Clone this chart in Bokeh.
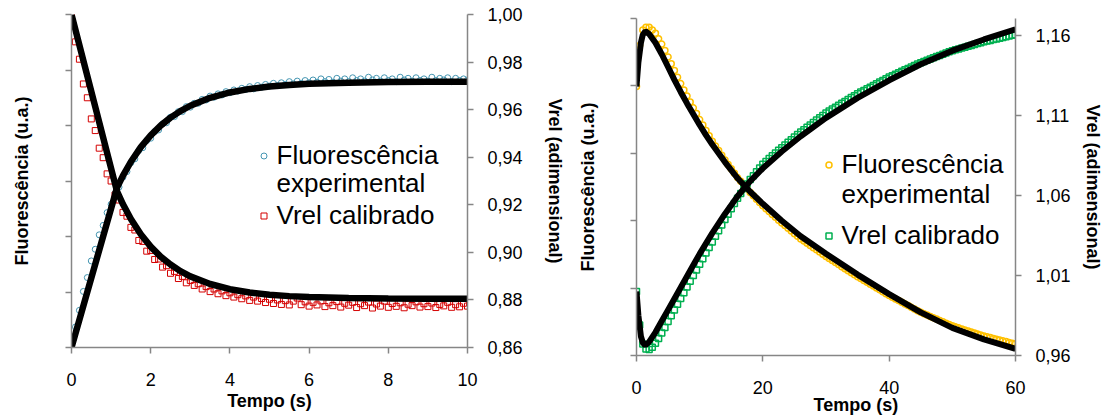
import numpy as np
from bokeh.plotting import figure
from bokeh.models import (Range1d, LinearAxis, FixedTicker, Legend, LegendItem,
                          Title, CustomJSTickFormatter)
from bokeh.layouts import row, column
from bokeh.embed import file_html
from bokeh.resources import INLINE

FONT = "Liberation Sans"
AXIS_GRAY = "#868686"

# ---------------- LEFT PANEL DATA ----------------
t_left = np.round(np.arange(0, 10.001, 0.1), 1)

fluo_left = [
    0.00, 0.37, 0.67, 1.01, 1.26, 1.56, 1.77, 2.03, 2.20, 2.43,
    2.58, 2.78, 2.89, 3.07, 3.17, 3.33, 3.40, 3.55, 3.60, 3.73,
    3.77, 3.89, 3.92, 4.03, 4.05, 4.15, 4.16, 4.25, 4.25, 4.34,
    4.33, 4.40, 4.40, 4.47, 4.46, 4.53, 4.51, 4.57, 4.55, 4.61,
    4.59, 4.64, 4.62, 4.67, 4.65, 4.70, 4.66, 4.72, 4.69, 4.74,
    4.71, 4.76, 4.72, 4.77, 4.74, 4.79, 4.75, 4.80, 4.76, 4.81,
    4.77, 4.82, 4.78, 4.84, 4.79, 4.83, 4.78, 4.85, 4.80, 4.84,
    4.79, 4.86, 4.81, 4.84, 4.80, 4.87, 4.82, 4.85, 4.80, 4.86,
    4.81, 4.84, 4.79, 4.87, 4.82, 4.85, 4.80, 4.86, 4.81, 4.84,
    4.80, 4.87, 4.81, 4.85, 4.82, 4.86, 4.79, 4.85, 4.81, 4.84,
    4.82,
]

vrel_left = [
    1.0000, 0.9885, 0.9812, 0.9708, 0.9650, 0.9561, 0.9512, 0.9438, 0.9398, 0.9330,
    0.9300, 0.9241, 0.9220, 0.9168, 0.9152, 0.9105, 0.9094, 0.9050, 0.9046, 0.9005,
    0.9008, 0.8970, 0.8972, 0.8938, 0.8944, 0.8912, 0.8920, 0.8890, 0.8899, 0.8872,
    0.8882, 0.8861, 0.8868, 0.8846, 0.8856, 0.8835, 0.8846, 0.8826, 0.8838, 0.8818,
    0.8830, 0.8812, 0.8822, 0.8805, 0.8817, 0.8798, 0.8812, 0.8795, 0.8806, 0.8789,
    0.8803, 0.8785, 0.8800, 0.8781, 0.8797, 0.8779, 0.8795, 0.8808, 0.8780, 0.8792,
    0.8774, 0.8790, 0.8779, 0.8796, 0.8772, 0.8788, 0.8776, 0.8793, 0.8770, 0.8786,
    0.8778, 0.8790, 0.8768, 0.8784, 0.8776, 0.8791, 0.8766, 0.8783, 0.8774, 0.8795,
    0.8769, 0.8785, 0.8773, 0.8788, 0.8767, 0.8782, 0.8776, 0.8792, 0.8770, 0.8784,
    0.8772, 0.8787, 0.8768, 0.8781, 0.8775, 0.8790, 0.8769, 0.8780, 0.8771, 0.8786,
    0.8774,
]

# fitted (model) curves, left panel
t_fit_left = [0, 1.15, 1.3, 1.5, 1.75, 2.0, 2.25, 2.5, 2.75, 3.0, 3.5, 4.0, 4.5,
              5.0, 5.5, 6.0, 7.0, 8.0, 9.0, 10.0]
fluo_fit_left = [0.0, 2.881, 3.097, 3.347, 3.609, 3.823, 3.998, 4.142, 4.259, 4.356,
                 4.499, 4.595, 4.659, 4.702, 4.731, 4.751, 4.772, 4.782, 4.787, 4.789]
vrel_fit_left = [1.0, 0.9256, 0.9202, 0.9140, 0.9076, 0.9024, 0.8982, 0.8949, 0.8921,
                 0.8899, 0.8867, 0.8845, 0.8831, 0.8822, 0.8816, 0.8812, 0.8808,
                 0.8806, 0.8805, 0.8805]

# ---------------- RIGHT PANEL DATA ----------------
t_right = np.round(np.arange(0, 60.001, 0.5), 1)

fluo_right = [
    3.99, 4.60, 4.83, 4.87, 4.87, 4.83, 4.78, 4.70, 4.62, 4.525,
    4.43, 4.33, 4.23, 4.13, 4.035, 3.94, 3.85, 3.76, 3.675, 3.59,
    3.50, 3.42, 3.34, 3.26, 3.18, 3.11, 3.04, 2.97, 2.90, 2.835,
    2.77, 2.705, 2.64, 2.585, 2.53, 2.475, 2.42, 2.37, 2.32, 2.27,
    2.22, 2.177, 2.135, 2.092, 2.05, 2.008, 1.966, 1.927, 1.887, 1.848,
    1.807, 1.768, 1.73, 1.698, 1.665, 1.633, 1.60, 1.568, 1.535, 1.503,
    1.47, 1.44, 1.41, 1.379, 1.349, 1.318, 1.288, 1.258, 1.228, 1.198,
    1.17, 1.142, 1.114, 1.086, 1.058, 1.03, 1.002, 0.974, 0.946, 0.918,
    0.89, 0.865, 0.840, 0.815, 0.790, 0.765, 0.740, 0.715, 0.690, 0.665,
    0.640, 0.620, 0.600, 0.580, 0.560, 0.540, 0.520, 0.500, 0.480, 0.460,
    0.440, 0.425, 0.41, 0.395, 0.380, 0.365, 0.350, 0.335, 0.320, 0.305,
    0.290, 0.278, 0.266, 0.254, 0.242, 0.230, 0.218, 0.206, 0.194, 0.182,
    0.175,
]

vrel_right = [
    1.0000, 0.9790, 0.9672, 0.9640, 0.9637, 0.9652, 0.9676, 0.9706, 0.9740, 0.9775,
    0.9812, 0.9848, 0.9884, 0.9920, 0.9956, 0.9992, 1.0028, 1.0064, 1.0100, 1.0135,
    1.0170, 1.0205, 1.0240, 1.0275, 1.0310, 1.0345, 1.0380, 1.0415, 1.0450, 1.0483,
    1.0517, 1.0550, 1.0583, 1.0613, 1.0643, 1.0672, 1.0700, 1.0724, 1.0748, 1.0772,
    1.0795, 1.0813, 1.0831, 1.0848, 1.0865, 1.0882, 1.0899, 1.0916, 1.0933, 1.0949,
    1.0965, 1.0981, 1.0996, 1.1011, 1.1026, 1.1041, 1.1056, 1.1071, 1.1086, 1.1100,
    1.1115, 1.1128, 1.1140, 1.1152, 1.1164, 1.1176, 1.1188, 1.1200, 1.1212, 1.1223,
    1.1235, 1.1246, 1.1256, 1.1267, 1.1277, 1.1288, 1.1298, 1.1309, 1.1319, 1.1330,
    1.1340, 1.1349, 1.1358, 1.1367, 1.1376, 1.1385, 1.1394, 1.1403, 1.1412, 1.1421,
    1.1430, 1.1438, 1.1445, 1.1453, 1.1460, 1.1468, 1.1475, 1.1483, 1.1490, 1.1498,
    1.1505, 1.1511, 1.1516, 1.1522, 1.1527, 1.1533, 1.1538, 1.1544, 1.1549, 1.1555,
    1.1560, 1.1565, 1.1569, 1.1574, 1.1578, 1.1583, 1.1587, 1.1592, 1.1596, 1.1601,
    1.1605,
]

t_fit_fluo_right = [0, 0.3, 0.7, 1.0, 1.4, 2, 3, 4, 5, 6, 7, 8, 9, 10, 11, 12, 14, 16,
                    18, 20, 23, 26, 30, 35, 40, 45, 50, 55, 60]
fluo_fit_right = [3.99, 4.35, 4.64, 4.76, 4.81, 4.77, 4.64, 4.47, 4.28, 4.09, 3.91,
                  3.74, 3.58, 3.42, 3.27, 3.13, 2.87, 2.63, 2.43, 2.25, 2.00, 1.77,
                  1.51, 1.20, 0.91, 0.64, 0.41, 0.24, 0.10]

t_fit_vrel_right = [0, 0.3, 0.7, 1.0, 1.4, 2, 3, 4, 5, 6, 7, 8, 9, 10, 12, 14, 16, 18,
                    20, 23, 26, 30, 35, 40, 45, 50, 55, 60]
vrel_fit_right = [1.000, 0.985, 0.972, 0.968, 0.9663, 0.9685, 0.9745, 0.9815, 0.9885,
                  0.9955, 1.0025, 1.0095, 1.0165, 1.0235, 1.0365, 1.0485, 1.0595,
                  1.0690, 1.0770, 1.0875, 1.0970, 1.1085, 1.1210, 1.1320, 1.1420,
                  1.1505, 1.1575, 1.1638]

x_ticks_left = [0, 2, 4, 6, 8, 10]
vrel_ticks_left = [0.86, 0.88, 0.90, 0.92, 0.94, 0.96, 0.98, 1.00]
x_ticks_right = [0, 20, 40, 60]
vrel_ticks_right = [0.96, 1.01, 1.06, 1.11, 1.16]

LEG_FLUO_1 = "Fluorescência"
LEG_FLUO_2 = "experimental"
LEG_VREL = "Vrel calibrado"
X_TITLE = "Tempo (s)"

comma_fmt = CustomJSTickFormatter(code="return tick.toFixed(2).replace('.', ',');")
blank_fmt = CustomJSTickFormatter(code="return '';")


def style_axis(ax, tick_standoff=14):
    ax.axis_line_color = AXIS_GRAY
    ax.axis_line_width = 1.5
    ax.major_tick_line_color = AXIS_GRAY
    ax.major_tick_line_width = 1.5
    ax.major_tick_in = 0
    ax.major_tick_out = 6
    ax.minor_tick_line_color = None
    ax.major_label_text_font = FONT
    ax.major_label_text_font_size = "18px"
    ax.major_label_text_color = "black"
    ax.major_label_standoff = tick_standoff
    ax.axis_label_text_font = FONT
    ax.axis_label_text_font_size = "18px"
    ax.axis_label_text_font_style = "bold"
    ax.axis_label_text_color = "black"


def base_fig(width, height, xr, yr, bl, br, bt, bb):
    p = figure(width=width, height=height, x_range=xr, y_range=yr,
               output_backend="svg", toolbar_location=None,
               y_axis_location="right",
               min_border_left=bl, min_border_right=br,
               min_border_top=bt, min_border_bottom=bb)
    p.xgrid.visible = False
    p.ygrid.visible = False
    p.outline_line_color = None
    p.background_fill_color = "white"
    p.border_fill_color = "white"
    return p


def add_legend(p, label, renderers, loc):
    lg = Legend(items=[LegendItem(label=label, renderers=renderers)], location=loc)
    lg.label_text_font = FONT
    lg.label_text_font_size = "26px"
    lg.label_text_color = "black"
    lg.glyph_width = 15
    lg.glyph_height = 15
    lg.label_standoff = 6
    lg.spacing = 0
    lg.padding = 0
    lg.margin = 0
    lg.border_line_color = None
    lg.background_fill_alpha = 0
    p.add_layout(lg)
    return lg


# ---------------- LEFT FIGURE ----------------
p1 = base_fig(568, 419, Range1d(0, 10), Range1d(0.86, 1.00), 71, 101, 14, 72)
p1.extra_y_ranges = {"fluo": Range1d(0, 6)}

ax = p1.xaxis[0]
ax.ticker = FixedTicker(ticks=x_ticks_left)
ax.axis_label = X_TITLE
style_axis(ax, 19)
ax.axis_label_standoff = 2

ay = p1.yaxis[0]
ay.ticker = FixedTicker(ticks=vrel_ticks_left)
ay.formatter = comma_fmt
ay.axis_label = "Vrel (adimensional)"
style_axis(ay, 14)
ay.axis_label_standoff = 19

axl = LinearAxis(y_range_name="fluo", ticker=FixedTicker(ticks=[0, 1, 2, 3, 4, 5, 6]),
                 formatter=blank_fmt, axis_label="Fluorescência (u.a.)")
style_axis(axl, 0)
axl.axis_label_standoff = 34
p1.add_layout(axl, "left")

r_b = p1.scatter(t_left, fluo_left, y_range_name="fluo", marker="circle", size=6,
                 fill_color=None, line_color="#4596B2", line_width=1)
r_r = p1.scatter(t_left, vrel_left, marker="square", size=6,
                 fill_color=None, line_color="#D40000", line_width=1)
p1.line(t_fit_left, fluo_fit_left, y_range_name="fluo", line_color="black", line_width=6.5)
p1.line(t_fit_left, vrel_fit_left, line_color="black", line_width=6.5)

add_legend(p1, LEG_FLUO_1, [r_b], (184.5, 176.5))
add_legend(p1, LEG_FLUO_2, [], (184.5, 148))
add_legend(p1, LEG_VREL, [r_r], (184.5, 116))

# ---------------- RIGHT FIGURE ----------------
p2 = base_fig(537, 419, Range1d(0, 60), Range1d(0.96, 1.1706), 68, 89, 18, 64)
p2.extra_y_ranges = {"fluo": Range1d(0, 5)}

bx = p2.xaxis[0]
bx.ticker = FixedTicker(ticks=x_ticks_right)
style_axis(bx, 19)

by = p2.yaxis[0]
by.ticker = FixedTicker(ticks=vrel_ticks_right)
by.formatter = comma_fmt
by.axis_label = "Vrel (adimensional)"
style_axis(by, 14)
by.axis_label_standoff = 9

byl = LinearAxis(y_range_name="fluo", ticker=FixedTicker(ticks=[0, 1, 2, 3, 4, 5]),
                 formatter=blank_fmt, axis_label="Fluorescência (u.a.)")
style_axis(byl, 0)
byl.axis_label_standoff = 33
p2.add_layout(byl, "left")

p2.add_layout(Title(text=X_TITLE, align="left", offset=177, standoff=-7,
                    text_font=FONT, text_font_size="18px", text_font_style="bold",
                    text_color="black"), "below")

r_y = p2.scatter(t_right, fluo_right, y_range_name="fluo", marker="circle", size=6,
                 fill_color=None, line_color="#FFC000", line_width=1.5)
r_g = p2.scatter(t_right, vrel_right, marker="square", size=6,
                 fill_color=None, line_color="#00B050", line_width=1.5)
p2.line(t_fit_fluo_right, fluo_fit_right, y_range_name="fluo", line_color="black",
        line_width=6)
p2.line(t_fit_vrel_right, vrel_fit_right, line_color="black", line_width=6)

add_legend(p2, LEG_FLUO_1, [r_y], (184.5, 175))
add_legend(p2, LEG_FLUO_2, [], (184.5, 145))
add_legend(p2, LEG_VREL, [r_g], (184.5, 104))

layout = row(column(p1), column(p2))
open("out.html", "w").write(file_html(layout, INLINE))
